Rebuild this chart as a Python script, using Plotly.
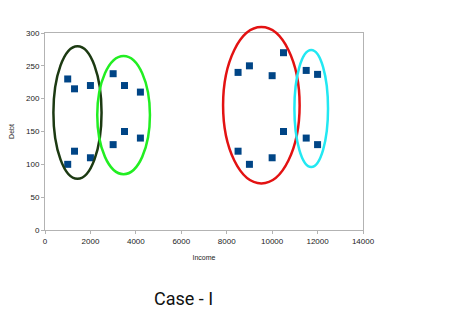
import plotly.graph_objects as go

income = [1000, 1300, 2000, 1300, 1000, 2000,
          3000, 3500, 4200, 3500, 4200, 3000,
          8500, 9000, 10000, 10500, 8500, 9000, 10000, 10500,
          11500, 12000, 11500, 12000]
debt = [230, 215, 220, 120, 100, 110,
        238, 220, 210, 150, 140, 130,
        240, 250, 235, 270, 120, 100, 110, 150,
        243, 237, 140, 130]
x_ticks = [0, 2000, 4000, 6000, 8000, 10000, 12000, 14000]
y_ticks = [0, 50, 100, 150, 200, 250, 300]

# cluster ellipses (x0, x1, y0, y1, color)
clusters_x0 = [370, 2300, 7840, 10980]
clusters_x1 = [2490, 4620, 11210, 12460]
clusters_y0 = [78, 85, 71, 96]
clusters_y1 = [280, 265, 309, 274]
clusters_color = ["#1c3a12", "#22ee22", "#e31212", "#22e8f2"]

fig = go.Figure()
fig.add_trace(go.Scatter(x=income, y=debt, mode="markers",
                         marker=dict(symbol="square", size=7, color="#004586"),
                         cliponaxis=False, showlegend=False))

L, R, T, B = 45, 96, 33, 96
W, H = 459, 326
pw, ph = W - L - R, H - T - B
xmax, ymax = 14000, 300

for x0, x1, y0, y1, c in zip(clusters_x0, clusters_x1, clusters_y0, clusters_y1, clusters_color):
    fig.add_shape(type="circle", xref="paper", yref="paper",
                  x0=x0 / xmax, x1=x1 / xmax, y0=y0 / ymax, y1=y1 / ymax,
                  line=dict(color=c, width=2.5), layer="above")

fig.update_layout(
    width=W, height=H, margin=dict(l=L, r=R, t=T, b=B),
    plot_bgcolor="white", paper_bgcolor="white",
    font=dict(family="Liberation Sans, Arial", size=8, color="#222"),
    xaxis=dict(range=[0, xmax], tickvals=x_ticks, ticktext=[str(v) for v in x_ticks],
               showgrid=False, zeroline=False, showline=True, linecolor="#b3b3b3",
               mirror=True, ticks="outside", ticklen=3, tickcolor="#b3b3b3",
               title=dict(text="Income", font=dict(size=7), standoff=10)),
    yaxis=dict(range=[0, ymax], tickvals=y_ticks, ticktext=[str(v) for v in y_ticks],
               showgrid=False, zeroline=False, showline=True, linecolor="#b3b3b3",
               mirror=True, ticks="outside", ticklen=3, tickcolor="#b3b3b3",
               title=dict(text="Debt", font=dict(size=7), standoff=10)),
    annotations=[dict(text="Case - I", xref="paper", yref="paper",
                      x=(183 - L) / pw, y=-(298 - (T + ph)) / ph,
                      showarrow=False, xanchor="center", yanchor="middle",
                      font=dict(family="Roboto", size=18, color="#111"))],
)
fig.write_html("out.html")
